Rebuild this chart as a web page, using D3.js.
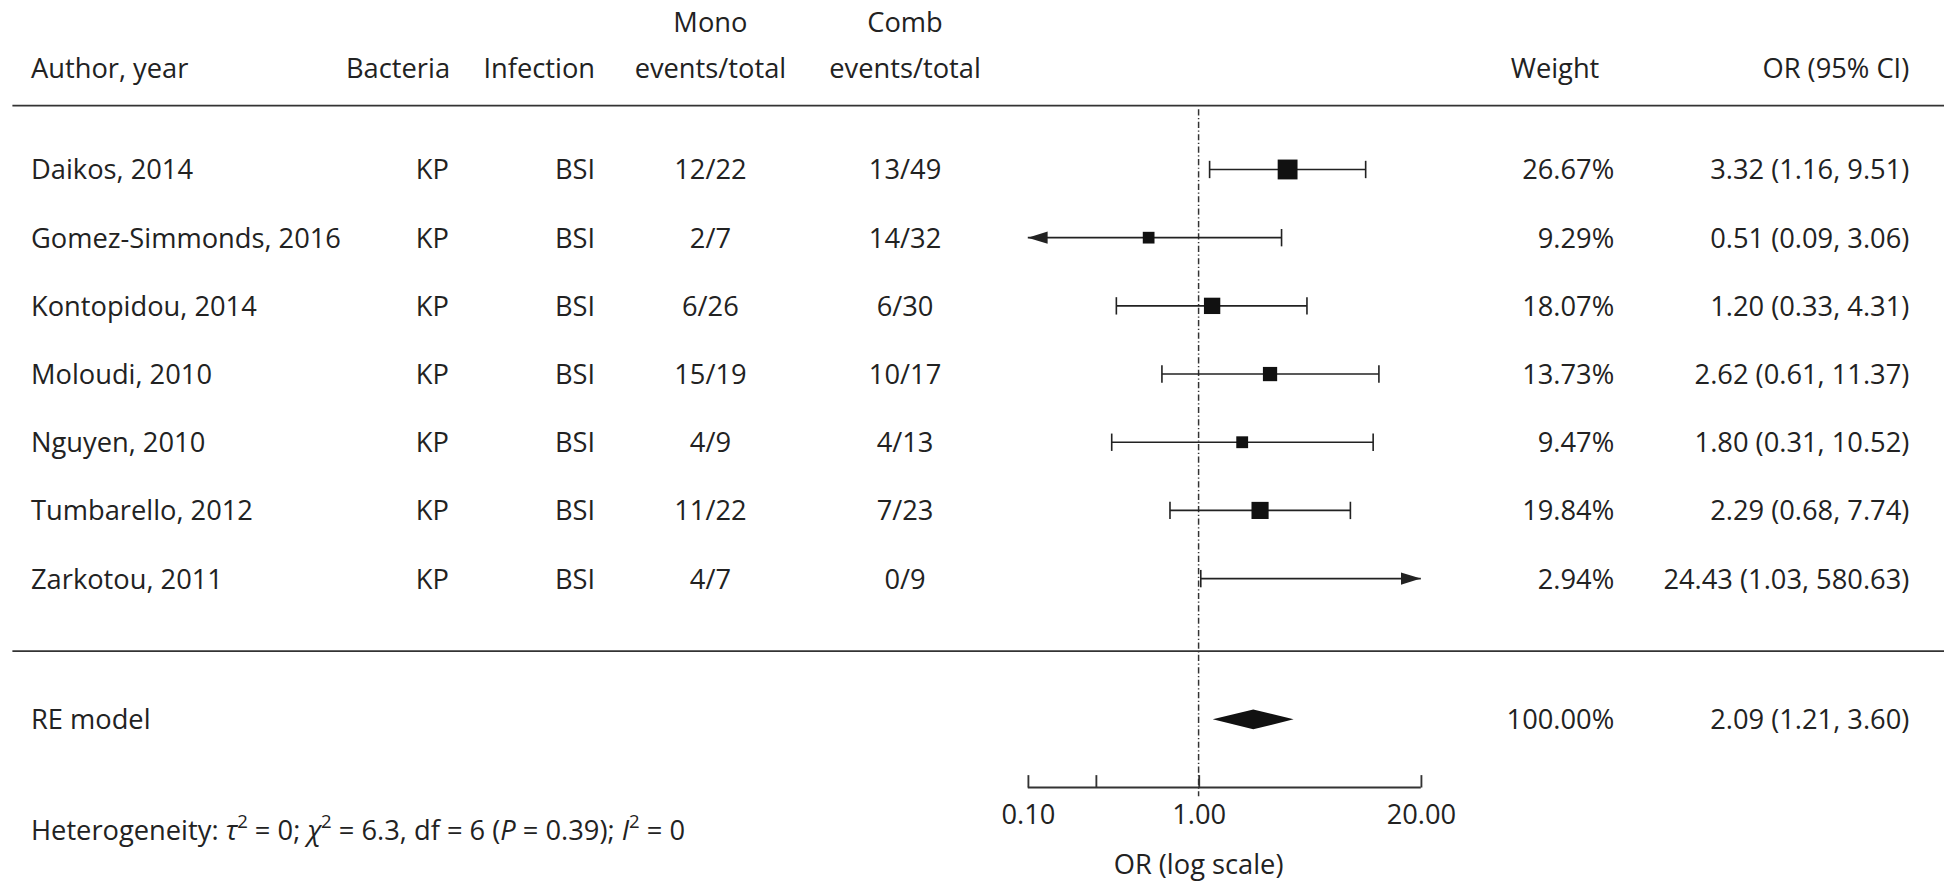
<!DOCTYPE html>
<html><head><meta charset="utf-8">
<script src="https://cdn.jsdelivr.net/npm/d3@7"></script>
<style>body{margin:0;background:#fff}text{font-family:"Open Sans",sans-serif;font-size:22px;fill:#222}</style>
</head><body><svg id="c" width="1944" height="882" viewBox="0 0 1568 711"></svg>
<script>
const authors = ['Daikos, 2014','Gomez-Simmonds, 2016','Kontopidou, 2014','Moloudi, 2010','Nguyen, 2010','Tumbarello, 2012','Zarkotou, 2011'];
const bacteria = ['KP','KP','KP','KP','KP','KP','KP'];
const infection = ['BSI','BSI','BSI','BSI','BSI','BSI','BSI'];
const mono = ['12/22','2/7','6/26','15/19','4/9','11/22','4/7'];
const comb = ['13/49','14/32','6/30','10/17','4/13','7/23','0/9'];
const weights = [26.67,9.29,18.07,13.73,9.47,19.84,2.94];
const or = [3.32,0.51,1.20,2.62,1.80,2.29,24.43];
const lo = [1.16,0.09,0.33,0.61,0.31,0.68,1.03];
const hi = [9.51,3.06,4.31,11.37,10.52,7.74,580.63];
const pooled = {or:2.09, lo:1.21, hi:3.60, weight:100};
const tickVals = [0.1,0.25,1,20];
const tickLabels = ['0.10','','1.00','20.00'];

const svg = d3.select('#c');
const x = d3.scaleLog().domain([0.1,20]).range([829,1146]);
const y = d3.scaleBand().domain(d3.range(authors.length)).range([109,494]);
const cy = i => y(i) + y.bandwidth()/2;
const fmt = d3.format('.2f');
const ci = i => `${fmt(or[i])} (${fmt(lo[i])}, ${fmt(hi[i])})`;

// headers
const hdr = [['Author, year',25,'start'],['Bacteria',363,'end'],['Infection',480,'end'],
  ['events/total',573,'middle'],['events/total',730,'middle'],['Weight',1290,'end'],['OR (95% CI)',1540,'end']];
hdr.forEach(h => svg.append('text').attr('x',h[1]).attr('y',63).attr('text-anchor',h[2]).text(h[0]));
svg.append('text').attr('x',573).attr('y',26).attr('text-anchor','middle').text('Mono');
svg.append('text').attr('x',730).attr('y',26).attr('text-anchor','middle').text('Comb');

svg.append('line').attr('x1',10).attr('x2',1568).attr('y1',85).attr('y2',85).attr('stroke','#333').attr('stroke-width',1.5);
svg.append('line').attr('x1',10).attr('x2',1568).attr('y1',525).attr('y2',525).attr('stroke','#333').attr('stroke-width',1.5);

// reference line
svg.append('line').attr('x1',x(1)).attr('x2',x(1)).attr('y1',88).attr('y2',642)
  .attr('stroke','#333').attr('stroke-width',1.2).attr('stroke-dasharray','5,2,1,2');

const rows = svg.selectAll('g.row').data(authors).enter().append('g').attr('class','row');
const col = (acc, xp, anchor) => rows.append('text').attr('x',xp).attr('y',(d,i)=>cy(i)+8)
  .attr('text-anchor',anchor).text(acc);
col((d)=>d,25,'start');
col((d,i)=>bacteria[i],362,'end');
col((d,i)=>infection[i],480,'end');
col((d,i)=>mono[i],573,'middle');
col((d,i)=>comb[i],730,'middle');
col((d,i)=>fmt(weights[i])+'%',1302,'end');
col((d,i)=>ci(i),1540,'end');

const [dmin,dmax] = x.domain();
rows.each(function(d,i){
  const g = d3.select(this), yy = cy(i);
  const l = Math.max(lo[i],dmin), h = Math.min(hi[i],dmax);
  g.append('line').attr('x1',x(l)).attr('x2',x(h)).attr('y1',yy).attr('y2',yy).attr('stroke','#222').attr('stroke-width',1.3);
  [[lo[i],l,-1],[hi[i],h,1]].forEach(([v,c,s])=>{
    if (v===c) g.append('line').attr('x1',x(c)).attr('x2',x(c)).attr('y1',yy-7).attr('y2',yy+7).attr('stroke','#222').attr('stroke-width',1.3);
    else g.append('path').attr('d',`M${x(c)},${yy}l${-s*16},-5l0,10z`).attr('fill','#222');
  });
  if (or[i] > dmax || or[i] < dmin) return;
  const s = Math.sqrt(weights[i])*3.1;
  g.append('rect').attr('x',x(or[i])-s/2).attr('y',yy-s/2).attr('width',s).attr('height',s).attr('fill','#111');
});

// pooled
const py = 580;
svg.append('text').attr('x',25).attr('y',py+8).text('RE model');
svg.append('text').attr('x',1302).attr('y',py+8).attr('text-anchor','end').text(fmt(pooled.weight)+'%');
svg.append('text').attr('x',1540).attr('y',py+8).attr('text-anchor','end').text(`${fmt(pooled.or)} (${fmt(pooled.lo)}, ${fmt(pooled.hi)})`);
svg.append('path').attr('d',`M${x(pooled.lo)},${py}L${x(pooled.or)},${py-8}L${x(pooled.hi)},${py}L${x(pooled.or)},${py+8}Z`).attr('fill','#111');

// axis
const ax = svg.append('g').attr('transform','translate(0,635)')
  .call(d3.axisBottom(x).tickValues(tickVals).tickSize(-10).tickFormat((d,i)=>tickLabels[i]));
ax.select('.domain').attr('d',`M${x(dmin)},0H${x(dmax)}`).attr('stroke','#333').attr('stroke-width',1.5);
ax.selectAll('.tick line').attr('stroke','#333').attr('stroke-width',1.5);
ax.selectAll('.tick text').attr('dy','1.2em').style('font-size','22px').style('font-family','"Open Sans",sans-serif').attr('fill','#222');
svg.append('text').attr('x',x(1)).attr('y',705).attr('text-anchor','middle').text('OR (log scale)');

// heterogeneity
const ht = svg.append('text').attr('x',25).attr('y',677);
ht.append('tspan').text('Heterogeneity: ');
ht.append('tspan').attr('font-style','italic').text('τ');
ht.append('tspan').attr('dy',-9).style('font-size','15px').text('2');
ht.append('tspan').attr('dy',9).text(' = 0; ');
ht.append('tspan').attr('font-style','italic').text('χ');
ht.append('tspan').attr('dy',-9).style('font-size','15px').text('2');
ht.append('tspan').attr('dy',9).text(' = 6.3, df = 6 (');
ht.append('tspan').attr('font-style','italic').text('P');
ht.append('tspan').text(' = 0.39); ');
ht.append('tspan').attr('font-style','italic').text('I');
ht.append('tspan').attr('dy',-9).style('font-size','15px').text('2');
ht.append('tspan').attr('dy',9).text(' = 0');
</script></body></html>
